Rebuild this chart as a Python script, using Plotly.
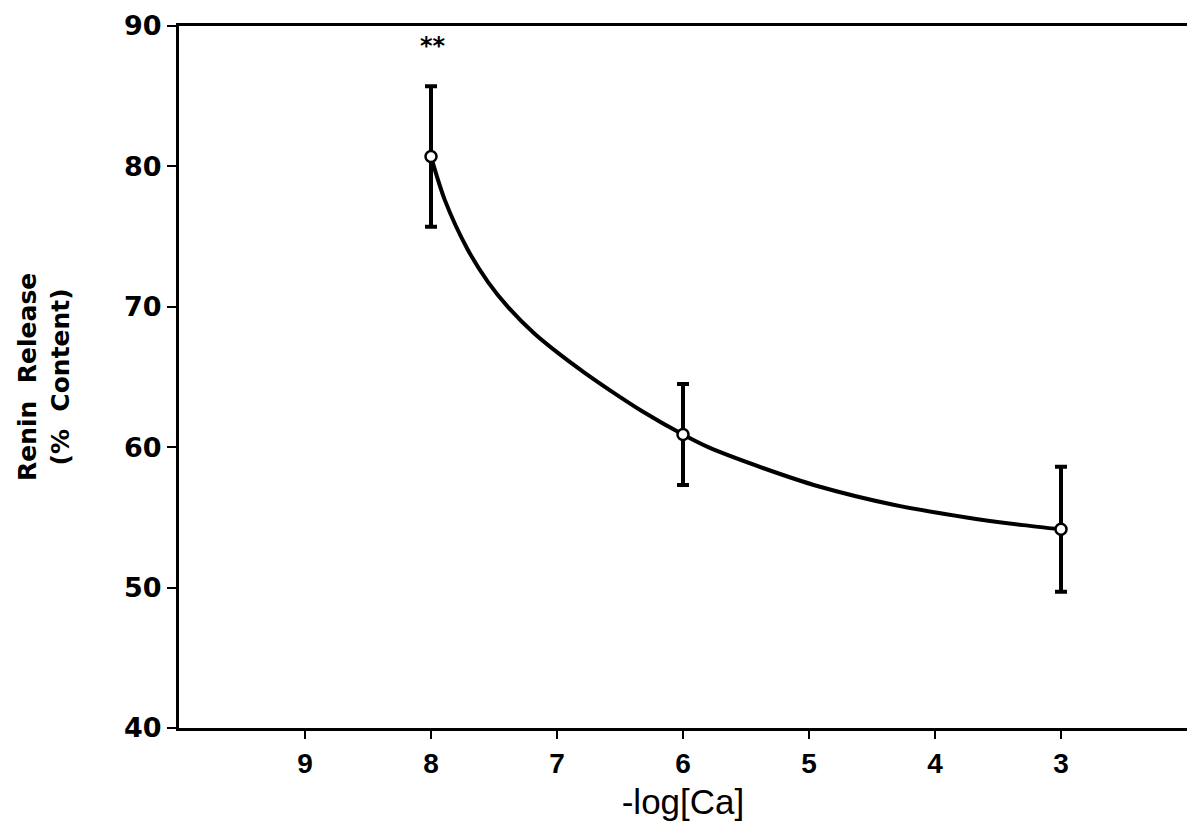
import plotly.graph_objects as go

# Measured data points (mean ± SE)
neg_log_ca = [8, 6, 3]
renin_release = [80.7, 60.9, 54.15]
renin_err = [5.0, 3.6, 4.45]

# Fitted curve
curve_x = [8.0, 7.89, 7.71, 7.55, 7.39, 7.18, 6.99, 6.78, 6.57, 6.33, 6.0,
           5.80, 5.36, 4.92, 4.33, 3.75, 3.30, 3.0]
curve_y = [80.7, 77.6, 74.1, 71.8, 70.0, 68.1, 66.7, 65.3, 64.0, 62.6, 60.9,
           60.0, 58.5, 57.2, 55.9, 55.0, 54.45, 54.15]

x_ticks = [9, 8, 7, 6, 5, 4, 3]
y_ticks = [40, 50, 60, 70, 80, 90]

fig = go.Figure()

fig.add_trace(go.Scatter(
    x=curve_x, y=curve_y, mode="lines",
    line=dict(color="black", width=4, shape="spline", smoothing=0.8),
    hoverinfo="skip", showlegend=False,
))

fig.add_trace(go.Scatter(
    x=neg_log_ca, y=renin_release, mode="markers",
    marker=dict(symbol="circle", size=11, color="white",
                line=dict(color="black", width=2.5)),
    error_y=dict(type="data", array=renin_err, visible=True,
                 color="black", thickness=4, width=6),
    showlegend=False,
))

fig.add_annotation(
    x=8.0, y=88.6, text="<b>**</b>", showarrow=False,
    xshift=2, font=dict(family="DejaVu Sans", size=24, color="black"),
)

fig.add_annotation(
    xref="paper", yref="paper", x=0, y=0.5,
    xshift=-135, text="<b>Renin  Release<br>(%  Content)</b>",
    textangle=-90, showarrow=False, xanchor="center", yanchor="middle",
    font=dict(family="DejaVu Sans", size=25, color="black"),
)

fig.update_layout(
    width=1187, height=834,
    margin=dict(l=179, r=0, t=26, b=106),
    paper_bgcolor="white", plot_bgcolor="white",
    xaxis=dict(
        range=[10, 2.0], tickvals=x_ticks,
        ticktext=[f"<b>{v}</b>" for v in x_ticks],
        showline=True, linecolor="black", linewidth=3, mirror=True,
        ticks="outside", ticklen=8, tickwidth=2, tickcolor="black",
        showgrid=False, zeroline=False,
        tickfont=dict(family="Liberation Sans Narrow, Liberation Sans", size=28, color="black"),
        title=dict(text="-log[Ca]", standoff=12,
                   font=dict(family="Liberation Sans", size=35, color="black")),
    ),
    yaxis=dict(
        range=[40, 90], tickvals=y_ticks,
        ticktext=[f"<b>{v}</b>" for v in y_ticks],
        showline=True, linecolor="black", linewidth=3, mirror=False,
        ticks="outside", ticklen=9, tickwidth=2, tickcolor="black",
        showgrid=False, zeroline=False,
        tickfont=dict(family="DejaVu Sans", size=27, color="black"),
    ),
)

fig.write_html(
    "out.html",
    config={"displayModeBar": False},
    post_script="document.body.style.margin='0';document.body.style.overflow='hidden';",
)
